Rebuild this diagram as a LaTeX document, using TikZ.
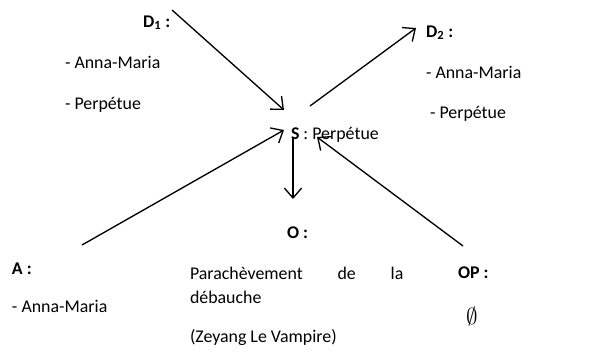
\documentclass[tikz,border=0pt]{standalone}
\usepackage{fontspec}
\setmainfont{Carlito}
\usetikzlibrary{arrows.meta}
\begin{document}
\begin{tikzpicture}[x=0.75pt,y=-0.75pt,
  txt/.style={anchor=base west,inner sep=0pt,outer sep=0pt,font=\fontsize{13.4}{16}\selectfont},
  hd/.style={txt,font=\fontsize{13.4}{16}\selectfont\bfseries},
  arr/.style={line width=1pt,-{Straight Barb[length=7.5pt,width=13pt,line width=1pt]}}]
\useasboundingbox (0,0) rectangle (606,351);
% texts
\node[hd] (d1) at (143,27) {D\textsubscript{1} :};
\node[txt] (d1a) at (65,68) {- Anna-Maria};
\node[txt] (d1b) at (65,109) {- Perpétue};
\node[hd] (d2) at (426,37) {D\textsubscript{2} :};
\node[txt] (d2a) at (426,78) {- Anna-Maria};
\node[txt] (d2b) at (430,118) {- Perpétue};
\node[txt] (s) at (291,139) {\textbf{S} : Perpétue};
\node[hd] (o) at (287,238) {O :};
\node[hd] (a) at (12,274) {A :};
\node[txt] (aa) at (12,312) {- Anna-Maria};
\node[txt] (o1) at (190,279) {\hbox to 160pt{Parachèvement\hfill de\hfill la}};
\node[txt] (o2) at (190,303) {débauche};
\node[txt] (o3) at (190,342) {(Zeyang Le Vampire)};
\node[hd] (op) at (458,278) {OP :};
\node[txt,font=\fontsize{17}{20}\selectfont] (opv) at (466,324) {$\emptyset$};
% connector endpoints
\coordinate (pd1) at (172,10);
\coordinate (ps1) at (284,110);
\coordinate (ps2) at (310,106);
\coordinate (pd2) at (416,28);
\coordinate (pa) at (82,245);
\coordinate (ps3) at (284,130);
\coordinate (ps4) at (293,138);
\coordinate (po) at (293,199);
\coordinate (pop) at (463,246);
\coordinate (ps5) at (317,137);
\draw[arr] (pd1) -- (ps1);
\draw[arr] (ps2) -- (pd2);
\draw[arr] (pa) -- (ps3);
\draw[arr] (ps4) -- (po);
\draw[arr] (pop) -- (ps5);
\end{tikzpicture}
\end{document}
